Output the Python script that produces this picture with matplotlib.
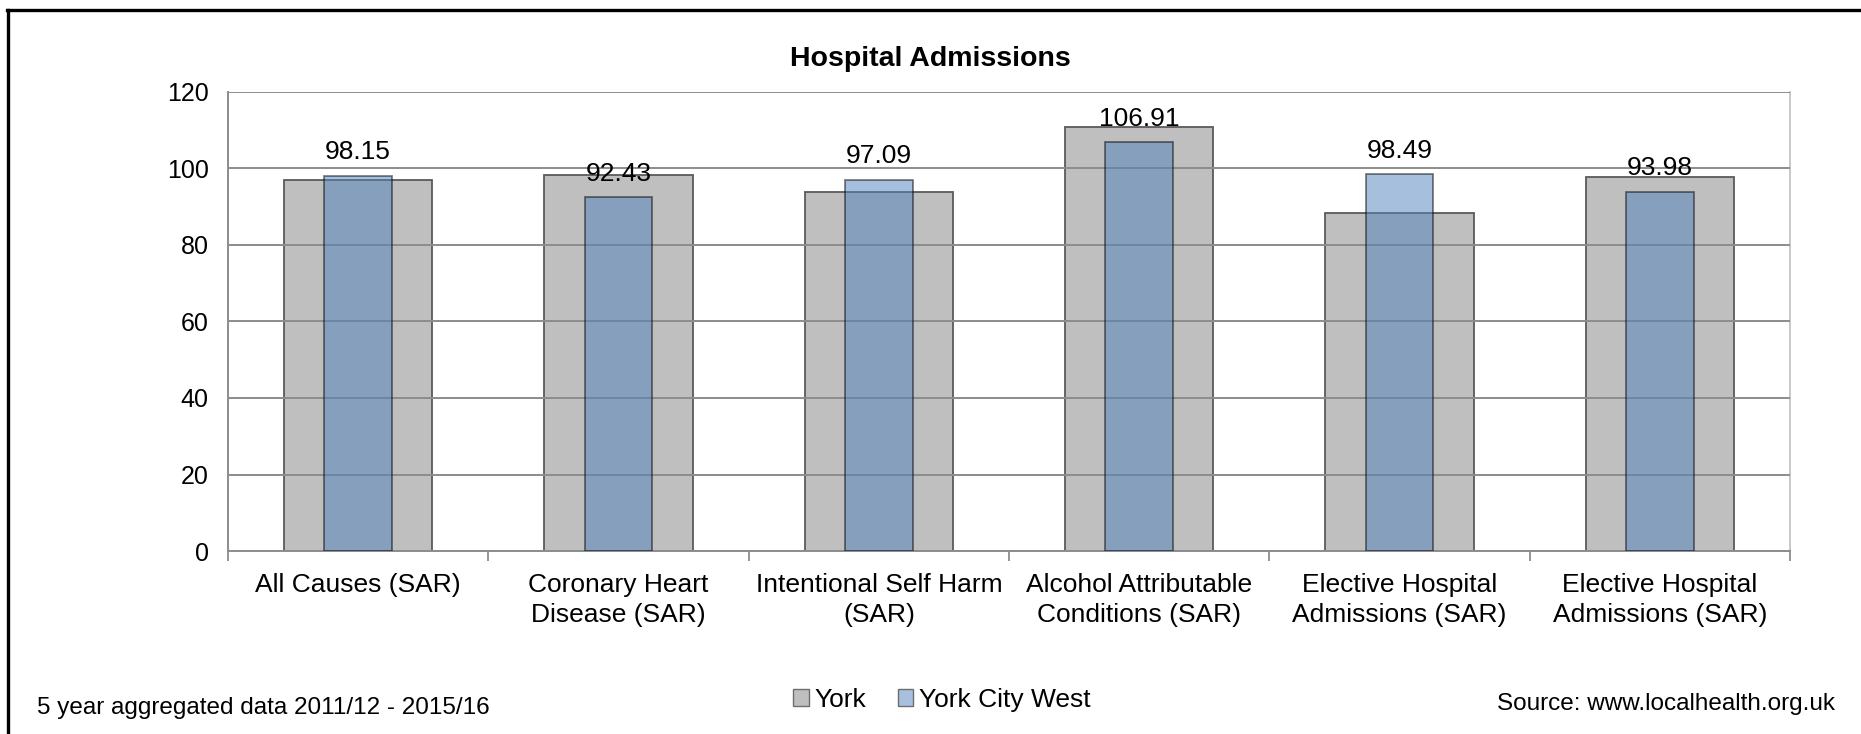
import numpy as np
import matplotlib.pyplot as plt
from matplotlib.lines import Line2D
from matplotlib.patches import Patch

plt.rcParams['font.family'] = ['Liberation Sans', 'DejaVu Sans']

categories = [
    "All Causes (SAR)",
    "Coronary Heart\nDisease (SAR)",
    "Intentional Self Harm\n(SAR)",
    "Alcohol Attributable\nConditions (SAR)",
    "Elective Hospital\nAdmissions (SAR)",
    "Elective Hospital\nAdmissions (SAR)",
]
york = [96.9, 98.2, 93.9, 110.9, 88.4, 97.8]
york_city_west = [98.15, 92.43, 97.09, 106.91, 98.49, 93.98]
y_ticks = [0, 20, 40, 60, 80, 100, 120]

fig = plt.figure(figsize=(18.61, 7.34), dpi=100)
ax = fig.add_axes([0.1225, 0.2493, 0.8394, 0.6254])

x = np.arange(len(categories))
ax.bar(x, york, width=0.57, color="#BFBFBF", edgecolor="#5A5A5A", linewidth=1.3, zorder=2)
ax.bar(x, york_city_west, width=0.26, color="#4F81BD", alpha=0.5,
       edgecolor="#000000", linewidth=1.3, zorder=3)

for xi, v in zip(x, york_city_west):
    ax.annotate(f"{v:.2f}", (xi, v), xytext=(0, 8), textcoords="offset points",
                ha="center", va="bottom", fontsize=19, zorder=4)

ax.set_xlim(-0.5, len(categories) - 0.5)
ax.set_ylim(0, 120)
ax.set_yticks(y_ticks)
ax.yaxis.grid(True, color="#8C8C8C", linewidth=1.4, zorder=1)
ax.set_axisbelow(False)
ax.tick_params(axis="y", length=0, pad=14, labelsize=18)

ax.set_xticks(x)
ax.set_xticklabels(categories, fontsize=19, linespacing=1.32)
ax.set_xticks(np.arange(len(categories) + 1) - 0.5, minor=True)
ax.tick_params(axis="x", which="major", length=0, pad=16)
ax.tick_params(axis="x", which="minor", length=7, width=1.3, color="#8C8C8C", direction="out")

for side in ["left", "bottom"]:
    ax.spines[side].set_color("#8C8C8C")
    ax.spines[side].set_linewidth(1.4)
ax.spines["top"].set_visible(False)
ax.spines["right"].set_color("#C8C8C8")
ax.spines["right"].set_linewidth(1.4)

fig.text(0.5, 0.919, "Hospital Admissions", ha="center", va="center",
         fontsize=20.5, fontweight="bold")

handles = [Patch(facecolor="#BFBFBF", edgecolor="#6E6E6E", label="York"),
           Patch(facecolor="#A7C0DE", edgecolor="#6E6E6E", label="York City West")]
fig.legend(handles=handles, loc="center", bbox_to_anchor=(0.506, 0.047), ncol=2,
           frameon=False, fontsize=19, handlelength=0.6, handleheight=0.6,
           handletextpad=0.2, columnspacing=1.2)

fig.text(0.02, 0.035, "5 year aggregated data 2011/12 - 2015/16", ha="left",
         va="center", fontsize=17.5)
fig.text(0.986, 0.041, "Source: www.localhealth.org.uk", ha="right",
         va="center", fontsize=17.5)

# outer frame (top and left)
fig.add_artist(Line2D([0.004, 1.0], [0.986, 0.986], transform=fig.transFigure,
                      color="black", linewidth=2.4))
fig.add_artist(Line2D([0.0045, 0.0045], [0.0, 0.986], transform=fig.transFigure,
                      color="black", linewidth=2.4))

fig.savefig("out.png", dpi=100, facecolor="white")
